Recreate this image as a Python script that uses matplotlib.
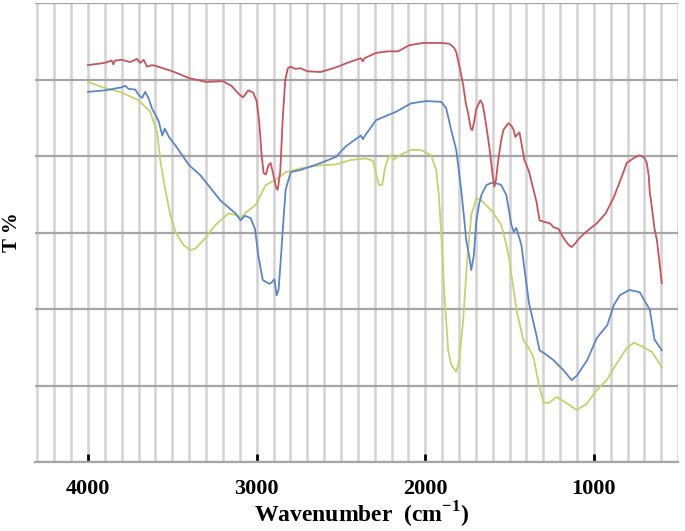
import matplotlib
matplotlib.use("Agg")
import matplotlib.pyplot as plt
from matplotlib.ticker import MultipleLocator

# FTIR spectra (wavenumber in cm-1, transmittance in arbitrary %)
red_wn = [4000, 3900, 3860, 3850, 3840, 3800, 3750, 3710, 3690, 3670, 3650, 3620, 3600,
          3500, 3400, 3300, 3200, 3150, 3100, 3080, 3050, 3020, 3000, 2985, 2970, 2959,
          2945, 2930, 2917, 2900, 2885, 2875, 2860, 2845, 2830, 2815, 2798, 2770, 2740,
          2700, 2620, 2530, 2450, 2382, 2370, 2360, 2292, 2220, 2161, 2096, 2013, 1900,
          1858, 1830, 1816, 1795, 1775, 1760, 1745, 1730, 1721, 1710, 1697, 1673, 1660,
          1650, 1635, 1620, 1600, 1590, 1580, 1567, 1550, 1537, 1507, 1490, 1477, 1465,
          1455, 1441, 1412, 1385, 1358, 1340, 1322, 1293, 1260, 1239, 1210, 1180, 1150,
          1132, 1110, 1085, 1040, 983, 930, 882, 840, 805, 760, 728, 700, 686, 675, 668,
          660, 640, 626, 597]
red_t = [51.9, 52.2, 52.5, 52.0, 52.5, 52.6, 52.3, 52.7, 52.2, 52.6, 51.7, 51.9, 51.8,
         51.1, 50.2, 49.7, 49.8, 49.2, 48.0, 47.7, 48.6, 48.3, 47.2, 44.5, 40.0, 37.8,
         37.6, 38.8, 39.1, 37.5, 35.9, 35.6, 38.0, 45.0, 50.0, 51.5, 51.7, 51.4, 51.5,
         51.1, 51.0, 51.6, 52.3, 52.8, 52.4, 52.8, 53.5, 53.7, 53.7, 54.5, 54.8, 54.8,
         54.7, 54.2, 53.6, 51.5, 49.3, 47.0, 45.5, 43.6, 43.4, 44.5, 46.2, 47.3, 46.8,
         45.6, 43.5, 41.2, 37.5, 36.0, 37.0, 39.5, 42.0, 43.4, 44.3, 44.0, 43.5, 42.5,
         42.8, 43.1, 39.5, 38.0, 35.6, 34.0, 31.6, 31.4, 31.2, 30.7, 30.5, 29.3, 28.4,
         28.1, 28.6, 29.3, 30.2, 31.2, 32.5, 34.6, 37.0, 39.1, 39.8, 40.1, 39.8, 39.1,
         37.5, 35.2, 34.0, 30.5, 29.0, 23.4]

blue_wn = [4000, 3900, 3800, 3780, 3760, 3720, 3700, 3680, 3661, 3640, 3620, 3600, 3580,
           3560, 3545, 3520, 3482, 3400, 3334, 3215, 3125, 3095, 3070, 3036, 3010, 2990,
           2964, 2941, 2925, 2910, 2895, 2881, 2870, 2857, 2840, 2828, 2798, 2739, 2620,
           2530, 2470, 2382, 2370, 2360, 2292, 2173, 2084, 1995, 1906, 1876, 1846, 1816,
           1787, 1769, 1757, 1740, 1727, 1712, 1697, 1680, 1667, 1638, 1608, 1570, 1549,
           1519, 1489, 1475, 1460, 1430, 1410, 1385, 1340, 1322, 1280, 1239, 1180, 1132,
           1100, 1040, 983, 920, 882, 846, 790, 728, 668, 640, 597]
blue_t = [48.4, 48.6, 49.0, 49.2, 48.8, 48.7, 48.0, 47.6, 48.4, 47.5, 46.2, 45.4, 44.5,
          42.7, 43.6, 42.5, 41.4, 38.8, 37.5, 34.2, 32.5, 31.6, 32.2, 31.9, 30.5, 27.0,
          23.8, 23.5, 23.3, 23.5, 23.9, 21.8, 22.5, 26.4, 32.0, 35.6, 37.9, 38.2, 39.1,
          39.9, 41.3, 42.7, 42.2, 42.6, 44.7, 45.8, 46.9, 47.2, 47.1, 46.3, 43.4, 40.8,
          35.6, 31.8, 29.0, 27.0, 25.1, 27.0, 31.5, 33.8, 34.9, 36.2, 36.5, 36.4, 36.2,
          34.9, 31.0, 30.1, 30.6, 28.4, 25.0, 20.8, 16.5, 14.6, 14.0, 13.3, 12.0, 10.7,
          11.3, 13.3, 16.2, 17.9, 20.5, 21.8, 22.5, 22.2, 19.9, 16.0, 14.6]

green_wn = [4000, 3900, 3810, 3700, 3631, 3589, 3572, 3542, 3512, 3482, 3435, 3393, 3363,
            3304, 3244, 3167, 3120, 3096, 3066, 3006, 2947, 2887, 2828, 2739, 2620, 2530,
            2441, 2352, 2310, 2290, 2274, 2255, 2240, 2220, 2203, 2185, 2173, 2144, 2084,
            2025, 1965, 1935, 1920, 1906, 1888, 1864, 1846, 1816, 1799, 1775, 1751, 1727,
            1697, 1667, 1608, 1549, 1519, 1501, 1459, 1418, 1388, 1358, 1328, 1299, 1269,
            1221, 1162, 1102, 1043, 983, 924, 864, 805, 763, 704, 656, 597]
green_t = [49.7, 48.9, 48.4, 47.3, 45.8, 43.0, 39.5, 35.6, 32.3, 30.1, 28.4, 27.7, 27.9,
           29.3, 31.0, 32.5, 32.3, 31.9, 32.6, 33.6, 36.2, 36.9, 37.9, 38.4, 38.8, 38.9,
           39.5, 39.7, 39.4, 37.5, 36.2, 36.3, 38.3, 39.8, 40.1, 39.5, 39.8, 40.2, 40.8,
           40.8, 40.1, 38.2, 35.0, 30.3, 22.5, 14.6, 12.7, 11.8, 13.2, 18.6, 26.5, 32.3,
           34.5, 34.2, 32.9, 31.0, 28.4, 26.4, 19.9, 15.9, 15.0, 13.7, 10.3, 7.8, 7.7,
           8.5, 7.7, 6.8, 7.6, 9.4, 10.7, 12.9, 14.9, 15.6, 15.0, 14.4, 12.4]

x_ticks = [4000, 3000, 2000, 1000]

SERIF = ["Liberation Serif", "DejaVu Serif"]
plt.rcParams["mathtext.fontset"] = "custom"
plt.rcParams["mathtext.rm"] = "Liberation Serif:bold"
plt.rcParams["mathtext.bf"] = "Liberation Serif:bold"


def main() -> None:
    fig = plt.figure(figsize=(6.85, 5.31), dpi=100)
    ax = fig.add_axes([0.051, 0.13, 0.939, 0.864])

    ax.plot(green_wn, green_t, color="#c2d46a", lw=1.3)
    ax.plot(blue_wn, blue_t, color="#5b86c6", lw=1.3)
    ax.plot(red_wn, red_t, color="#c8545c", lw=1.3)

    ax.set_xlim(4315, 500)
    ax.set_ylim(0, 60)

    ax.xaxis.set_major_locator(plt.FixedLocator(x_ticks))
    ax.xaxis.set_minor_locator(MultipleLocator(100))
    ax.yaxis.set_major_locator(MultipleLocator(10))
    ax.set_yticklabels([])

    ax.grid(which="both", axis="x", color="#d2d2d2", lw=1.8)
    ax.grid(which="major", axis="y", color="#a6a6a6", lw=1.6)
    ax.set_axisbelow(True)

    for side in ("left", "right", "top"):
        ax.spines[side].set_visible(False)
    ax.spines["bottom"].set_color("#a6a6a6")
    ax.spines["bottom"].set_linewidth(1.6)

    ax.tick_params(axis="y", length=0)
    ax.tick_params(axis="x", which="major", direction="in", length=6, width=2,
                   color="black", pad=12)
    ax.tick_params(axis="x", which="minor", length=0)

    for lab in ax.get_xticklabels():
        lab.set_fontfamily(SERIF)
        lab.set_fontweight("bold")
        lab.set_fontsize(16)

    fig.text(0.528, 0.016, "Wavenumber  (cm$^{-1}$)", family=SERIF, fontweight="bold",
             fontsize=17, ha="center", va="baseline")
    ax.set_ylabel("T %", family=SERIF, fontweight="bold", fontsize=15, labelpad=6)

    fig.savefig("out.png", dpi=100)
    plt.close(fig)


if __name__ == "__main__":
    main()
